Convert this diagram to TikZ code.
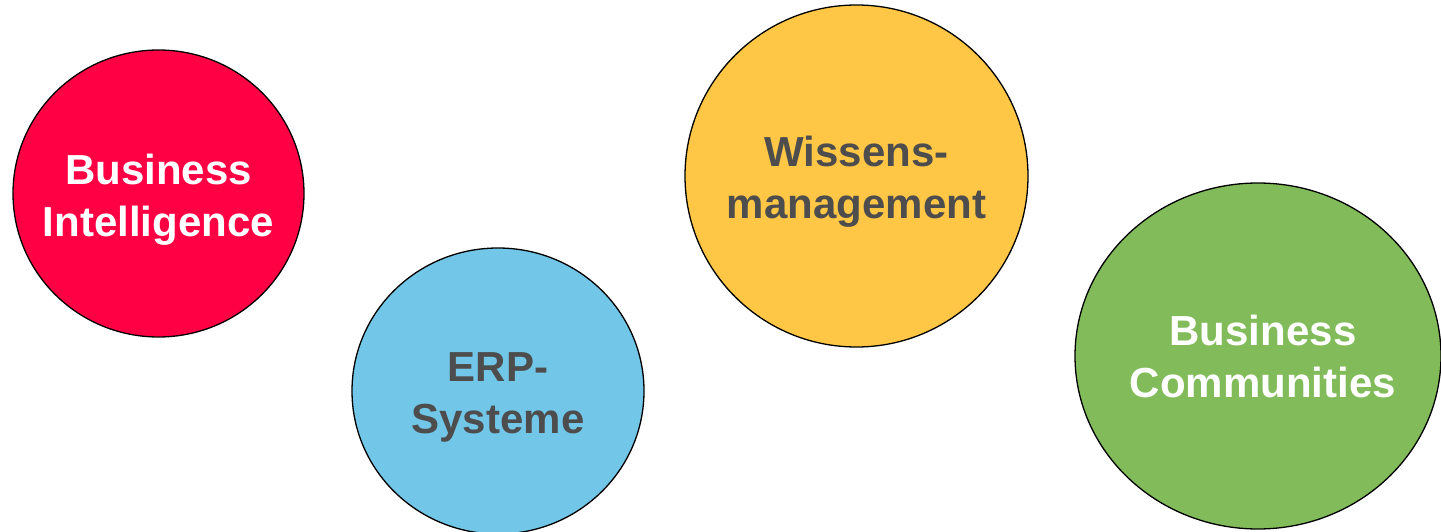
\documentclass[tikz,border=0pt]{standalone}
\usepackage{fontspec}
\setmainfont{Liberation Sans}
\usetikzlibrary{shapes.geometric}
\definecolor{bired}{RGB}{255,0,68}
\definecolor{erpblue}{RGB}{114,198,232}
\definecolor{wmyellow}{RGB}{255,199,69}
\definecolor{bcgreen}{RGB}{130,188,90}
\definecolor{txtgray}{RGB}{77,77,77}
\tikzset{
  bubble/.style={ellipse, draw=black, line width=1.3pt, inner sep=0pt},
  label/.style={align=center, inner sep=0pt, yshift=-6pt,
    font=\bfseries\fontsize{42}{52}\selectfont},
}
\begin{document}
\begin{tikzpicture}[x=1pt,y=-1pt]
\useasboundingbox[fill=white] (0,0) rectangle (1441,532);
\node[bubble, fill=bired, minimum width=291pt, minimum height=287pt] (bi) at (158.5,193.5) {};
\node[bubble, fill=erpblue, minimum width=292pt, minimum height=286pt] (erp) at (498,391) {};
\node[bubble, fill=wmyellow, minimum width=343pt, minimum height=342pt] (wm) at (856.5,176) {};
\node[bubble, fill=bcgreen, minimum width=366pt, minimum height=346pt] (bc) at (1258,356) {};
\node[label, text=white] (bit) at (bi.center) {Business\\Intelligence};
\node[label, text=txtgray] (erpt) at (erp.center) {ERP-\\Systeme};
\node[label, text=txtgray] (wmt) at (wm.center) {Wissens-\\management};
\node[label, text=white, xshift=5pt, yshift=6pt] (bct) at (bc.center) {Business\\Communities};
\end{tikzpicture}
\end{document}
